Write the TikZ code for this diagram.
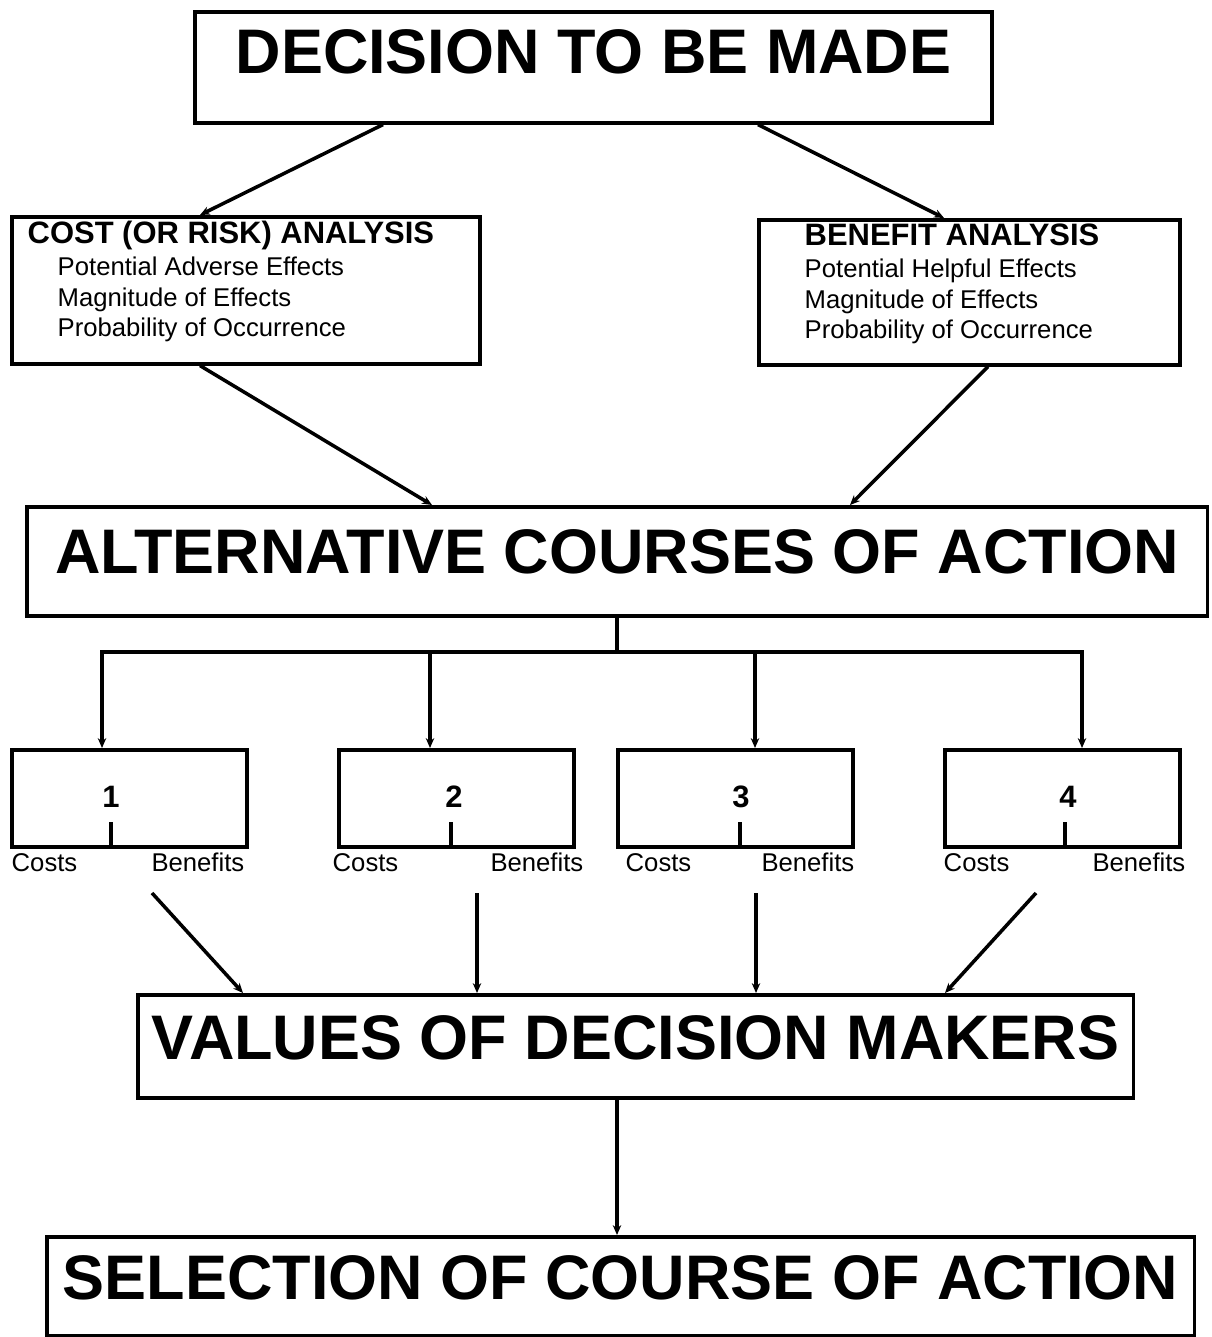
\documentclass[tikz,border=0pt]{standalone}
\usepackage{fontspec}
\setmainfont{Liberation Sans}
\usetikzlibrary{arrows.meta,positioning}

\newcommand\bigfont{\fontsize{17.9}{20}\selectfont\bfseries}
\newcommand\headfont{\fontsize{8.8}{10}\selectfont\bfseries}
\newcommand\smallfont{\fontsize{7.3}{8.65}\selectfont}

\tikzset{%
  bigbox/.style={
    rectangle,
    draw,
    line width=1pt,
    inner sep=0pt,
    anchor=north west,
    font=\bigfont
  },
  analysis/.style={
    rectangle,
    draw,
    line width=1pt,
    inner sep=0pt,
    anchor=north west,
    minimum height=1.46cm
  },
  analysis text/.style={
    anchor=north west,
    inner sep=0pt,
    align=left,
    font=\smallfont
  },
  course/.style={
    rectangle,
    draw,
    line width=1pt,
    inner sep=0pt,
    anchor=north west,
    minimum width=2.35cm,
    minimum height=0.97cm
  },
  conn/.style={
    line width=1pt,
    -{Stealth[length=2.8pt,width=2.4pt]}
  },
}

\begin{document}
\begin{tikzpicture}[x=0.01cm,y=-0.01cm]
\useasboundingbox (0,0) rectangle (1211,1337);
% main boxes
\node[bigbox,minimum width=7.97cm,text height=0.62cm,text depth=0.49cm] (decision) at (193,10) {DECISION TO BE MADE};
\node[bigbox,minimum width=11.80cm,text height=0.67cm,text depth=0.42cm] (alternatives) at (25,505) {ALTERNATIVE COURSES OF ACTION};
\node[bigbox,minimum width=9.95cm,text height=0.65cm,text depth=0.38cm] (values) at (136,993) {VALUES OF DECISION MAKERS};
\node[bigbox,minimum width=11.47cm,text height=0.63cm,text depth=0.36cm] (selection) at (45,1235) {SELECTION OF COURSE OF ACTION};

% analysis boxes
\node[analysis,minimum width=4.68cm,minimum height=1.47cm] (cost) at (10,215) {};
\node[analysis text] (costtext) at (27,220) {{\headfont COST (OR RISK) ANALYSIS}\\[0.6pt]
  \hspace*{0.3cm}Potential Adverse Effects\\
  \hspace*{0.3cm}Magnitude of Effects\\
  \hspace*{0.3cm}Probability of Occurrence};
\node[analysis,minimum width=4.21cm,minimum height=1.45cm] (benefit) at (757,218) {};
\node[analysis text] (benefittext) at (804,223) {{\headfont BENEFIT ANALYSIS}\\[0.6pt]
  Potential Helpful Effects\\
  Magnitude of Effects\\
  Probability of Occurrence};

\draw[conn] (decision.south -| 383,0) -- (cost.north -| 200,0);
\draw[conn] (decision.south -| 758,0) -- (benefit.north -| 944,0);
\draw[conn] (cost.south -| 200,0) -- (alternatives.north -| 432,0);
\draw[conn] (benefit.south -| 988,0) -- (alternatives.north -| 850,0);

% courses of action
\node[course] (opt1) at (10,748) {};
\node[course] (opt2) at (337,748) {};
\node[course] (opt3) at (616,748) {};
\node[course] (opt4) at (943,748) {};
\node[font=\headfont] (num1) at (111,797) {1};
\node[font=\headfont] (num2) at (454,797) {2};
\node[font=\headfont] (num3) at (741,797) {3};
\node[font=\headfont] (num4) at (1068,797) {4};
\draw[line width=1pt] (opt1.south -| 111,0) -- ++(0,-27);
\draw[line width=1pt] (opt2.south -| 451,0) -- ++(0,-27);
\draw[line width=1pt] (opt3.south -| 740,0) -- ++(0,-27);
\draw[line width=1pt] (opt4.south -| 1065,0) -- ++(0,-27);

\node[font=\smallfont,anchor=base west,inner sep=0pt] (cost1) at (11,871) {Costs};
\node[font=\smallfont,anchor=base east,inner sep=0pt] (benefit1) at (245,871) {Benefits};
\node[font=\smallfont,anchor=base west,inner sep=0pt] (cost2) at (332,871) {Costs};
\node[font=\smallfont,anchor=base east,inner sep=0pt] (benefit2) at (584,871) {Benefits};
\node[font=\smallfont,anchor=base west,inner sep=0pt] (cost3) at (625,871) {Costs};
\node[font=\smallfont,anchor=base east,inner sep=0pt] (benefit3) at (855,871) {Benefits};
\node[font=\smallfont,anchor=base west,inner sep=0pt] (cost4) at (943,871) {Costs};
\node[font=\smallfont,anchor=base east,inner sep=0pt] (benefit4) at (1186,871) {Benefits};

% branching
\coordinate (split) at (617,652);
\draw[line width=1pt] (alternatives.south -| split) -- (split);
\draw[conn] (split) -| (opt1.north -| 102,0);
\draw[conn] (split) -| (opt2.north -| 430,0);
\draw[conn] (split) -| (opt3.north -| 755,0);
\draw[conn] (split) -| (opt4.north -| 1082,0);

% into values
\coordinate (out1) at (152,893);
\coordinate (out2) at (477,893);
\coordinate (out3) at (756,893);
\coordinate (out4) at (1036,893);
\draw[conn] (out1) -- (values.north -| 243,0);
\draw[conn] (out2) -- (values.north -| out2);
\draw[conn] (out3) -- (values.north -| out3);
\draw[conn] (out4) -- (values.north -| 945,0);
\draw[conn] (values.south -| 617,0) -- (selection.north -| 617,0);
\end{tikzpicture}
\end{document}
